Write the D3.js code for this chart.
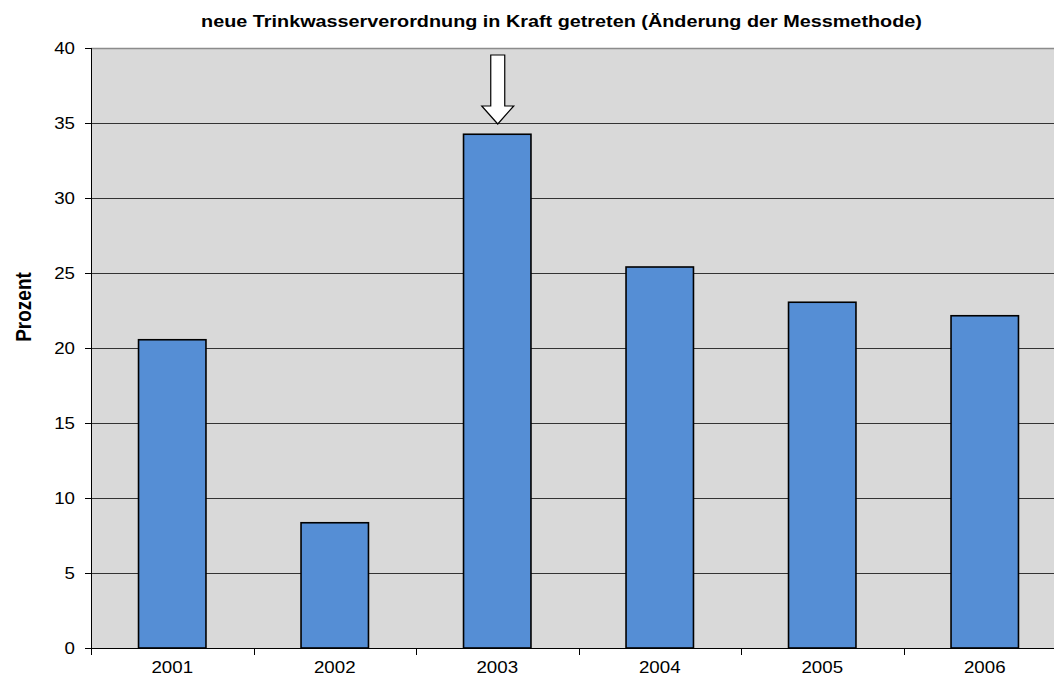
<!DOCTYPE html>
<html><head><meta charset="utf-8">
<script src="https://cdnjs.cloudflare.com/ajax/libs/d3/7.8.5/d3.min.js"></script>
<style>body{margin:0;background:#fff;} text{font-family:Arial,"Liberation Sans",sans-serif;}</style>
</head><body>
<svg id="c" width="1054" height="687"></svg>
<script>
const categories = ["2001","2002","2003","2004","2005","2006"];
const values = [20.55, 8.35, 34.25, 25.4, 23.05, 22.15];
const yTicks = [0,5,10,15,20,25,30,35,40];
const title = "neue Trinkwasserverordnung in Kraft getreten (Änderung der Messmethode)";
const yLabel = "Prozent";
const arrowCategory = "2003";

const svg = d3.select("#c");
const L = 91, R = 1066, T = 48, B = 648;
const STRETCH = 1.17;
const x = d3.scaleBand().domain(categories).range([L, R]).paddingInner(0.585).paddingOuter(0.2925);
const xb = d3.scaleBand().domain(categories).range([L, R]);
const y = d3.scaleLinear().domain([0, 40]).range([B, T]);

svg.append("rect").attr("x", L).attr("y", T).attr("width", R - L).attr("height", B - T).attr("fill", "#d9d9d9");
svg.append("line").attr("x1", L).attr("x2", R).attr("y1", T + 0.5).attr("y2", T + 0.5).attr("stroke", "#8c8c8c").attr("stroke-width", 1.5);

svg.append("g").selectAll("line").data(yTicks.filter(d => d > 0 && d < 40)).join("line")
  .attr("x1", L).attr("x2", R).attr("y1", d => Math.round(y(d)) + 0.5).attr("y2", d => Math.round(y(d)) + 0.5)
  .attr("stroke", "#333").attr("stroke-width", 1);

svg.append("g").selectAll("rect").data(categories).join("rect")
  .attr("x", d => x(d)).attr("width", x.bandwidth())
  .attr("y", (d, i) => y(values[i])).attr("height", (d, i) => B - y(values[i]))
  .attr("fill", "#558ed5").attr("stroke", "#000").attr("stroke-width", 1.6);

// y axis
const ya = svg.append("g").attr("transform", `translate(${L},0)`)
  .call(d3.axisLeft(y).tickValues(yTicks).tickSize(6).tickPadding(10).tickFormat(d3.format("d")));
ya.select(".domain").attr("stroke", "#000").attr("d", `M0.5,${T}V${B}`);
ya.selectAll(".tick line").attr("stroke", "#000");
ya.selectAll("text").attr("font-size", 16).attr("fill", "#000").attr("font-family", "Arial, 'Liberation Sans', sans-serif")
  .attr("transform", `translate(-16,0) scale(${STRETCH},1) translate(16,0)`);

// x axis
const xa = svg.append("g").attr("transform", `translate(0,${B})`)
  .call(d3.axisBottom(xb).tickSize(0).tickPadding(14));
xa.select(".domain").attr("stroke", "#000").attr("d", `M${L},0.5H${R}`);
xa.selectAll("text").attr("font-size", 16).attr("fill", "#000").attr("font-family", "Arial, 'Liberation Sans', sans-serif")
  .attr("transform", `scale(${STRETCH},1)`);
svg.append("g").selectAll("line").data(categories.slice(1)).join("line")
  .attr("x1", d => Math.round(xb(d)) + 0.5).attr("x2", d => Math.round(xb(d)) + 0.5)
  .attr("y1", B).attr("y2", B + 7).attr("stroke", "#000");
svg.append("line").attr("x1", L + 0.5).attr("x2", L + 0.5).attr("y1", B).attr("y2", B + 7).attr("stroke", "#000");

// title
const tt = svg.append("text").attr("text-anchor", "middle")
  .attr("font-size", 16).attr("font-weight", "bold").text(title);
const tw = tt.node().getComputedTextLength();
tt.attr("transform", `translate(561.5,27) scale(${721 / tw},1)`);

// y label
svg.append("text").attr("transform", `translate(31,307) scale(${STRETCH},1) rotate(-90)`).attr("text-anchor", "middle")
  .attr("font-size", 19).attr("font-weight", "bold").text(yLabel);

// arrow
const cx = xb(arrowCategory) + xb.bandwidth() / 2 + 0.5;
const tipY = y(35) + 1, headY = y(35) - 17, topY = T + 7;
const sw = 7, hw = 16;
svg.append("path").attr("d",
  `M${cx - sw},${topY}H${cx + sw}V${headY}H${cx + hw}L${cx},${tipY}L${cx - hw},${headY}H${cx - sw}Z`)
  .attr("fill", "#fff").attr("stroke", "#000").attr("stroke-width", 1.2);
</script>
</body></html>
